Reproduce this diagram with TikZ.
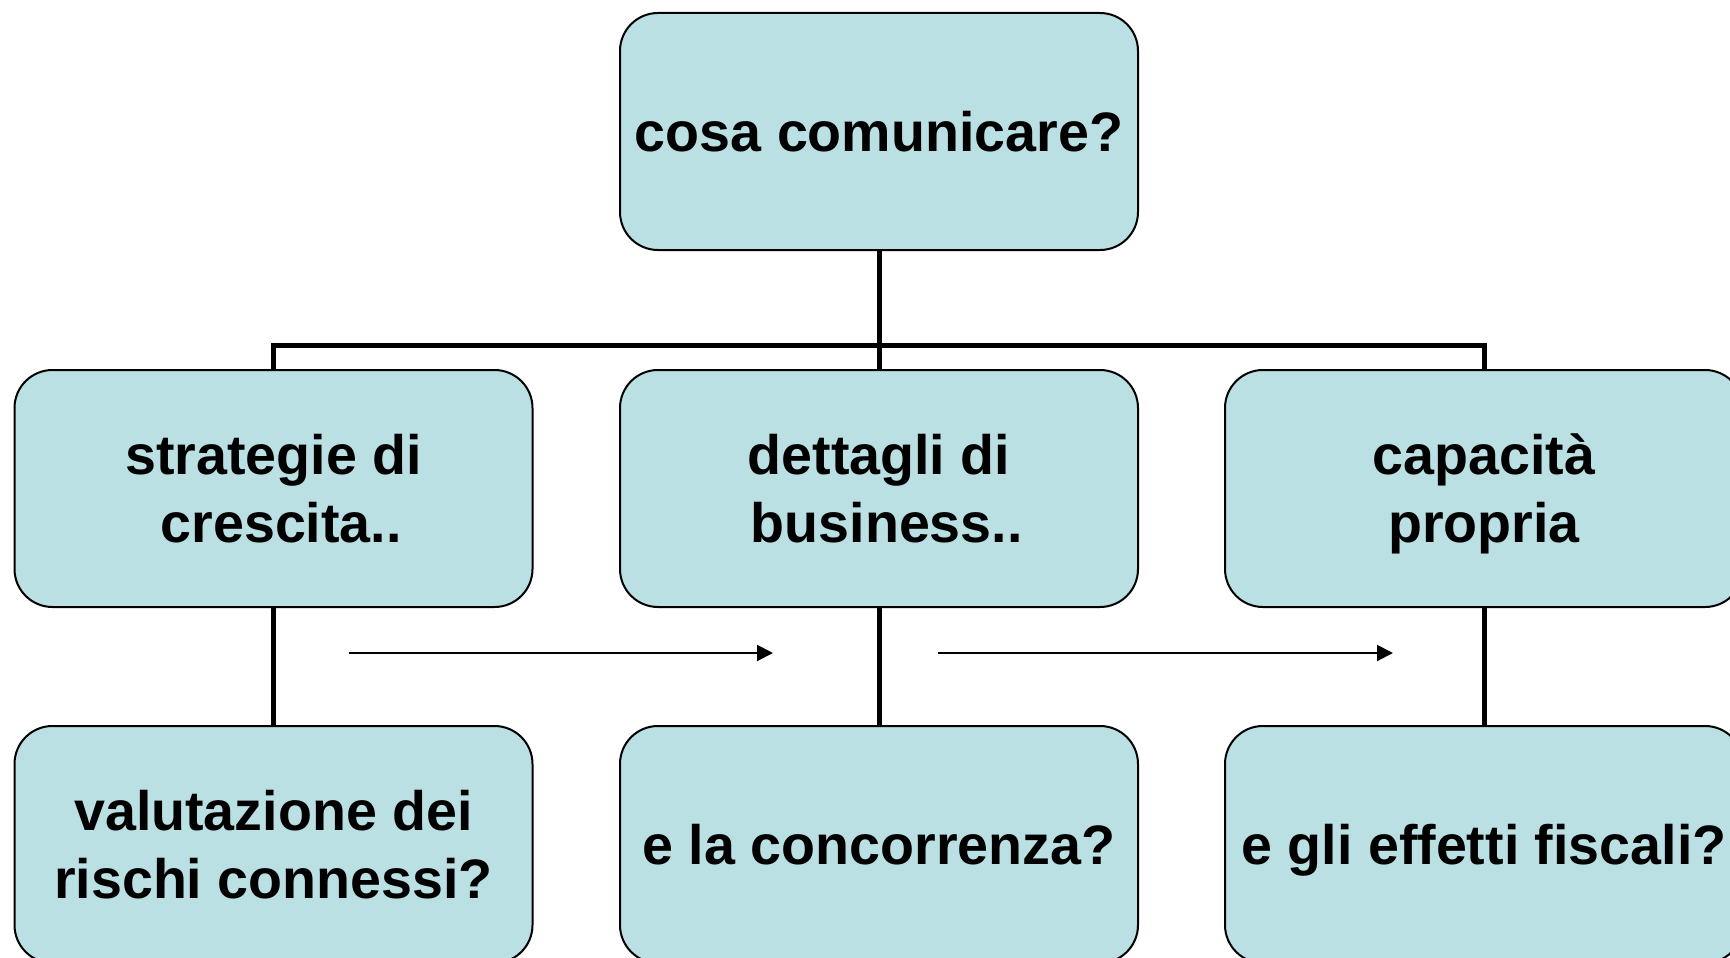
\documentclass[tikz,border=0pt]{standalone}
\usepackage{fontspec}
\setmainfont{Liberation Sans}
\usetikzlibrary{arrows.meta}
\definecolor{boxfill}{RGB}{187,224,227}
\newcommand\lnstrut{\rule[-14.5pt]{0pt}{68pt}}
\newcommand\lead{\hspace*{0.278em}}
\tikzset{
  card/.style={draw=black, line width=2pt, fill=boxfill, rounded corners=38pt,
    minimum width=518pt, minimum height=237pt, inner sep=0pt, align=center,
    font=\fontsize{55.6}{68}\selectfont\bfseries},
  conn/.style={draw=black, line width=5pt},
  flow/.style={draw=black, line width=2pt, -{Triangle[length=16pt,width=16pt]}}
}
\begin{document}
\begin{tikzpicture}[x=1pt,y=-1pt]
\useasboundingbox (0,0) rectangle (1730,958);
\clip (0,0) rectangle (1730,958);
\fill[white] (0,0) rectangle (1730,958);
% nodes
\node[card] (top) at (879,131.5) {\lnstrut cosa comunicare?};
\node[card] (s1) at (273.5,488.5) {\lnstrut strategie di\\\lnstrut\lead crescita..};
\node[card] (s2) at (879,488.5) {\lnstrut dettagli di\\\lnstrut\lead business..};
\node[card] (s3) at (1484,488.5) {\lnstrut capacità\\\lnstrut propria};
\node[card] (b1) at (273.5,844.5) {\lnstrut valutazione dei\\\lnstrut rischi connessi?};
\node[card] (b2) at (879,844.5) {\lnstrut e la concorrenza?};
\node[card] (b3) at (1484,844.5) {\lnstrut e gli effetti fiscali?};
% connectors
\coordinate (jn) at (879,345);
\draw[conn] (top.south) -- (s2.north);
\draw[conn] (s1.north) -- (s1.north |- jn) -- (s3.north |- jn) -- (s3.north);
\draw[conn] (s1.south) -- (b1.north);
\draw[conn] (s2.south) -- (b2.north);
\draw[conn] (s3.south) -- (b3.north);
% arrows
\coordinate (a1s) at (349,653);
\coordinate (a1e) at (773,653);
\coordinate (a2s) at (938,653);
\coordinate (a2e) at (1393,653);
\draw[flow] (a1s) -- (a1e);
\draw[flow] (a2s) -- (a2e);
\end{tikzpicture}
\end{document}
